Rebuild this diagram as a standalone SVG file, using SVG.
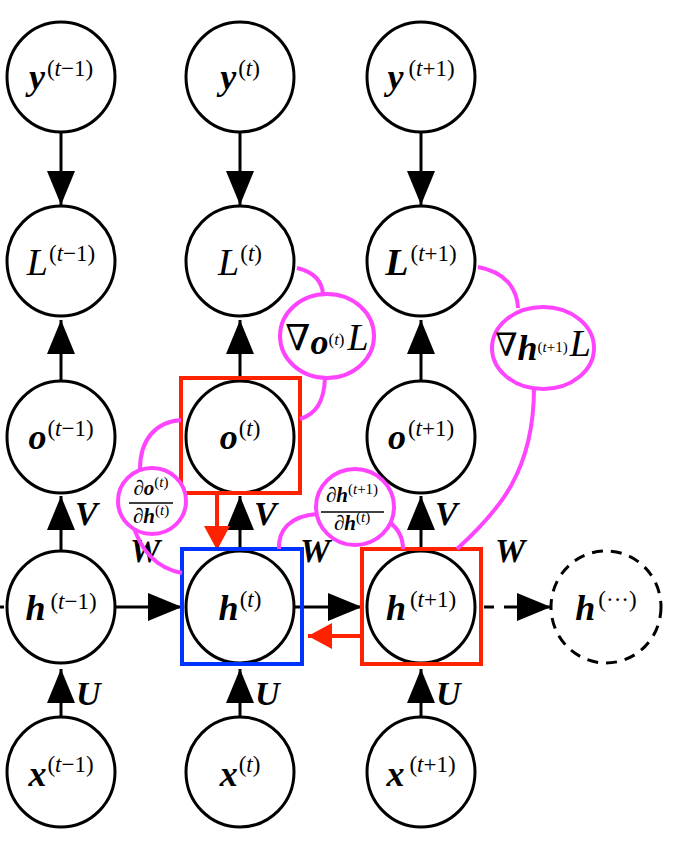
<svg xmlns="http://www.w3.org/2000/svg" width="674" height="842" viewBox="0 0 674 842">
<style>
.n{fill:#fff;stroke:#000;stroke-width:3}
.dsh{stroke-dasharray:11 8}
.t{font-family:"Liberation Serif","DejaVu Serif",serif;fill:#000}
.v{font-style:italic;font-weight:bold;font-size:36px}
.i{font-style:italic;font-size:38px}
.s{font-size:23px;font-style:normal;font-weight:normal}
.ti{font-style:italic}
.lab{font-style:italic;font-weight:bold;font-size:34px}
.c{fill:none;stroke:#000;stroke-width:3}
.rb{fill:none;stroke:#ff2200;stroke-width:4}
.bb{fill:none;stroke:#0033ff;stroke-width:4}
.rl{fill:none;stroke:#ff2200;stroke-width:4}
.m{fill:none;stroke:#ff44ff;stroke-width:4}
.mc{fill:#fff;stroke:#ff44ff;stroke-width:4}
.fb{font-size:21px;font-style:italic;font-weight:bold}
.fd{font-size:21px;font-style:italic}
.fs{font-size:15px}
</style>
<defs>
<marker id="ah" markerUnits="userSpaceOnUse" viewBox="0 0 34 28" markerWidth="34" markerHeight="28" refX="34" refY="14" orient="auto"><path d="M0,0 L34,14 L0,28 Z" fill="#000"/></marker>
<marker id="rah" markerUnits="userSpaceOnUse" viewBox="0 0 24 26" markerWidth="24" markerHeight="26" refX="24" refY="13" orient="auto"><path d="M0,0 L24,13 L0,26 Z" fill="#ff2200"/></marker>
</defs>

<g id="connectors">
<path class="c" d="M61,133 L61,205" marker-end="url(#ah)"/>
<path class="c" d="M240,133 L240,205" marker-end="url(#ah)"/>
<path class="c" d="M421,133 L421,205" marker-end="url(#ah)"/>
<path class="c" d="M61,381 L61,320" marker-end="url(#ah)"/>
<path class="c" d="M240,381 L240,320" marker-end="url(#ah)"/>
<path class="c" d="M421,381 L421,320" marker-end="url(#ah)"/>
<path class="c" d="M61,551 L61,496" marker-end="url(#ah)"/>
<path class="c" d="M240,551 L240,496" marker-end="url(#ah)"/>
<path class="c" d="M421,551 L421,496" marker-end="url(#ah)"/>
<path class="c" d="M61,716 L61,669" marker-end="url(#ah)"/>
<path class="c" d="M240,716 L240,669" marker-end="url(#ah)"/>
<path class="c" d="M421,716 L421,669" marker-end="url(#ah)"/>
<path class="c" d="M0,607 L4,607"/>
<path class="c" d="M115,607 L182,607" marker-end="url(#ah)"/>
<path class="c" d="M294,607 L362,607" marker-end="url(#ah)"/>
<path class="c" d="M484,607 L494,607 M504,607 L514,607"/>
<path class="c" d="M514,607 L551,607" marker-end="url(#ah)"/>
<text class="t lab" x="75" y="525">V</text>
<text class="t lab" x="254" y="525">V</text>
<text class="t lab" x="435" y="525">V</text>
<text class="t lab" x="76" y="705">U</text>
<text class="t lab" x="255" y="705">U</text>
<text class="t lab" x="436" y="705">U</text>
<text class="t lab" x="130" y="562">W</text>
<text class="t lab" x="300" y="562">W</text>
<text class="t lab" x="495" y="562">W</text>
</g>

<g id="node-y-tm1"><ellipse class="n" cx="61" cy="77" rx="54" ry="55"/><text class="t" x="61" y="89" text-anchor="middle"><tspan class="v">y</tspan><tspan class="s" dx="2" dy="-13">(<tspan class="ti">t</tspan>−1)</tspan></text></g>
<g id="node-y-t"><ellipse class="n" cx="240" cy="77" rx="54" ry="55"/><text class="t" x="240" y="89" text-anchor="middle"><tspan class="v">y</tspan><tspan class="s" dx="2" dy="-13">(<tspan class="ti">t</tspan>)</tspan></text></g>
<g id="node-y-tp1"><ellipse class="n" cx="421" cy="77" rx="54" ry="55"/><text class="t" x="421" y="89" text-anchor="middle"><tspan class="v">y</tspan><tspan class="s" dx="5" dy="-13">(<tspan class="ti">t</tspan>+1)</tspan></text></g>

<g id="node-L-tm1"><ellipse class="n" cx="61" cy="261" rx="54" ry="55"/><text class="t" x="61" y="275" text-anchor="middle"><tspan class="i">L</tspan><tspan class="s" dx="1" dy="-14">(<tspan class="ti">t</tspan>−1)</tspan></text></g>
<g id="node-L-t"><ellipse class="n" cx="240" cy="261" rx="54" ry="55"/><text class="t" x="240" y="275" text-anchor="middle"><tspan class="i">L</tspan><tspan class="s" dx="1" dy="-14">(<tspan class="ti">t</tspan>)</tspan></text></g>
<g id="node-L-tp1"><ellipse class="n" cx="421" cy="261" rx="54" ry="55"/><text class="t" x="421" y="275" text-anchor="middle"><tspan class="i" font-weight="bold">L</tspan><tspan class="s" dx="2" dy="-14">(<tspan class="ti">t</tspan>+1)</tspan></text></g>

<g id="node-o-tm1"><ellipse class="n" cx="61" cy="437" rx="54" ry="56"/><text class="t" x="61" y="449" text-anchor="middle"><tspan class="v">o</tspan><tspan class="s" dx="1" dy="-13">(<tspan class="ti">t</tspan>−1)</tspan></text></g>
<g id="node-o-t"><ellipse class="n" cx="240" cy="437" rx="54" ry="56"/><text class="t" x="240" y="449" text-anchor="middle"><tspan class="v">o</tspan><tspan class="s" dx="1" dy="-13">(<tspan class="ti">t</tspan>)</tspan></text></g>
<g id="node-o-tp1"><ellipse class="n" cx="421" cy="437" rx="54" ry="56"/><text class="t" x="421" y="449" text-anchor="middle"><tspan class="v">o</tspan><tspan class="s" dx="2" dy="-13">(<tspan class="ti">t</tspan>+1)</tspan></text></g>

<g id="node-h-tm1"><ellipse class="n" cx="61" cy="607" rx="54" ry="56"/><text class="t" x="61" y="620" text-anchor="middle"><tspan class="v">h</tspan><tspan class="s" dx="5" dy="-11">(<tspan class="ti">t</tspan>−1)</tspan></text></g>
<g id="node-h-t"><ellipse class="n" cx="240" cy="607" rx="54" ry="56"/><text class="t" x="240" y="620" text-anchor="middle"><tspan class="v">h</tspan><tspan class="s" dx="1" dy="-13">(<tspan class="ti">t</tspan>)</tspan></text></g>
<g id="node-h-tp1"><ellipse class="n" cx="421" cy="607" rx="54" ry="56"/><text class="t" x="421" y="620" text-anchor="middle"><tspan class="v">h</tspan><tspan class="s" dx="4" dy="-13">(<tspan class="ti">t</tspan>+1)</tspan></text></g>
<g id="node-h-more"><ellipse class="n dsh" cx="606" cy="607" rx="55" ry="56"/><text class="t" x="606" y="620" text-anchor="middle"><tspan class="v">h</tspan><tspan class="s" dx="3" dy="-13">(···)</tspan></text></g>

<g id="node-x-tm1"><ellipse class="n" cx="61" cy="772" rx="54" ry="55"/><text class="t" x="61" y="786" text-anchor="middle"><tspan class="v">x</tspan><tspan class="s" dx="1" dy="-14">(<tspan class="ti">t</tspan>−1)</tspan></text></g>
<g id="node-x-t"><ellipse class="n" cx="240" cy="772" rx="54" ry="55"/><text class="t" x="240" y="786" text-anchor="middle"><tspan class="v">x</tspan><tspan class="s" dx="1" dy="-14">(<tspan class="ti">t</tspan>)</tspan></text></g>
<g id="node-x-tp1"><ellipse class="n" cx="421" cy="772" rx="54" ry="55"/><text class="t" x="421" y="786" text-anchor="middle"><tspan class="v">x</tspan><tspan class="s" dx="5" dy="-14">(<tspan class="ti">t</tspan>+1)</tspan></text></g>

<g id="highlights">
<rect class="rb" x="181" y="378" width="119" height="115"/>
<path class="rl" d="M217,495 L217,550" marker-end="url(#rah)"/>
<rect class="bb" x="182" y="549" width="120" height="115"/>
<rect class="rb" x="362" y="549" width="119" height="115"/>
<path class="rl" d="M362,636 L308,636" marker-end="url(#rah)"/>
</g>

<g id="grad-o">
<path class="m" d="M297,268 C314,272 322,282 323,294"/>
<path class="m" d="M325,378 C324,402 316,414 300,419"/>
<ellipse class="mc" cx="327" cy="336" rx="47" ry="42"/>
<text class="t" x="327" y="350" text-anchor="middle"><tspan font-size="36px">∇</tspan><tspan class="v" font-size="24px" dy="4">o</tspan><tspan font-size="17px" dy="-9">(<tspan class="ti">t</tspan>)</tspan><tspan class="i" font-size="36px" dx="3" dy="5">L</tspan></text>
</g>

<g id="grad-h">
<path class="m" d="M478,267 C505,272 517,288 518,308"/>
<path class="m" d="M534,388 C534,470 500,510 457,549"/>
<ellipse class="mc" cx="543" cy="348" rx="51" ry="41"/>
<text class="t" x="543" y="356" text-anchor="middle"><tspan font-size="32px">∇</tspan><tspan class="v" font-size="22px" dy="4">h</tspan><tspan font-size="15px" dy="-8">(<tspan class="ti">t</tspan>+1)</tspan><tspan class="i" font-size="36px" dx="2" dy="4">L</tspan></text>
</g>

<g id="do-dh">
<path class="m" d="M140,469 C140,440 155,422 181,420"/>
<path class="m" d="M132,522 C140,550 155,568 182,573"/>
<ellipse class="mc" cx="152" cy="501" rx="34" ry="33"/>
<text class="t" x="151" y="495" text-anchor="middle"><tspan class="fd">∂</tspan><tspan class="fb">o</tspan><tspan class="fs" dy="-8">(<tspan class="ti">t</tspan>)</tspan></text>
<line x1="129" y1="503" x2="173" y2="503" stroke="#000" stroke-width="1.5"/>
<text class="t" x="151" y="523" text-anchor="middle"><tspan class="fd">∂</tspan><tspan class="fb">h</tspan><tspan class="fs" dy="-8">(<tspan class="ti">t</tspan>)</tspan></text>
</g>

<g id="dh-dh">
<path class="m" d="M317,514 C290,516 278,530 279,549"/>
<path class="m" d="M388,521 C398,528 403,538 403,549"/>
<ellipse class="mc" cx="355" cy="507" rx="39" ry="38"/>
<text class="t" x="352" y="502" text-anchor="middle"><tspan class="fd">∂</tspan><tspan class="fb">h</tspan><tspan class="fs" dy="-8">(<tspan class="ti">t</tspan>+1)</tspan></text>
<line x1="321" y1="512" x2="384" y2="512" stroke="#000" stroke-width="1.5"/>
<text class="t" x="352" y="530" text-anchor="middle"><tspan class="fd">∂</tspan><tspan class="fb">h</tspan><tspan class="fs" dy="-8">(<tspan class="ti">t</tspan>)</tspan></text>
</g>
</svg>
